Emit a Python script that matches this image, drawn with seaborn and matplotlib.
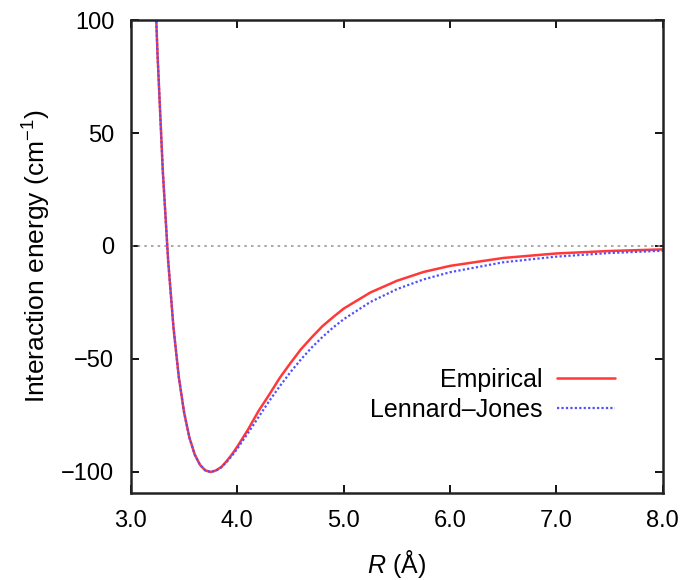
import numpy as np
import pandas as pd
import matplotlib
matplotlib.use("Agg")
import matplotlib.pyplot as plt
import seaborn as sns

# distancias (Angstrom) e energias (cm^-1)
r_vals = [3.20, 3.22, 3.25, 3.30, 3.35, 3.40, 3.45, 3.50, 3.55, 3.60, 3.65,
          3.70, 3.75, 3.80, 3.85, 3.90, 3.95, 4.00, 4.10, 4.20, 4.30, 4.40,
          4.50, 4.60, 4.70, 4.80, 4.90, 5.00, 5.25, 5.50, 5.75, 6.00, 6.50,
          7.00, 7.50, 8.00]

lj_vals = [152.8, 123.5, 85.0, 33.0, -6.4, -36.0, -57.9, -73.7, -84.8, -92.3,
           -96.9, -99.3, -100.0, -99.4, -97.9, -95.6, -92.8, -89.7, -82.8,
           -75.7, -68.6, -62.0, -55.8, -50.1, -44.9, -40.3, -36.1, -32.4,
           -24.8, -19.1, -14.8, -11.6, -7.2, -4.7, -3.1, -2.1]

emp_vals = [152.8, 123.5, 85.0, 33.0, -6.4, -36.0, -57.9, -73.7, -84.8, -92.3,
            -96.9, -99.3, -100.0, -99.3, -97.8, -95.2, -92.2, -88.8, -81.3,
            -73.0, -65.8, -58.3, -51.8, -45.6, -40.4, -35.5, -31.5, -27.7,
            -20.6, -15.4, -11.5, -8.8, -5.3, -3.3, -2.2, -1.5]

x_ticks = [3.0, 4.0, 5.0, 6.0, 7.0, 8.0]
y_ticks = [-100, -50, 0, 50, 100]

df = pd.DataFrame({"R": r_vals, "Empirical": emp_vals, "Lennard-Jones": lj_vals})

sns.set_style("ticks")
plt.rcParams["font.family"] = ["Liberation Sans", "DejaVu Sans"]
plt.rcParams["mathtext.fontset"] = "custom"
plt.rcParams["mathtext.rm"] = "Liberation Sans"
plt.rcParams["mathtext.it"] = "Liberation Sans:italic"
plt.rcParams["text.color"] = "black"
plt.rcParams["axes.labelcolor"] = "black"
plt.rcParams["xtick.color"] = "black"
plt.rcParams["ytick.color"] = "black"

fs = 17

fig = plt.figure(figsize=(6.89, 5.80), dpi=100)
ax = fig.add_axes([0.190, 0.150, 0.772, 0.8155])

ax.axhline(0, color="#999999", lw=1.2, ls=(0, (1.5, 2.5)), zorder=1)

sns.lineplot(data=df, x="R", y="Empirical", ax=ax, color="#ff3838", lw=1.8,
             label="Empirical", sort=False)
sns.lineplot(data=df, x="R", y="Lennard-Jones", ax=ax, color="#5050ff", lw=1.6,
             ls=(0, (1, 1)), label="Lennard\u2013Jones", sort=False)

ax.set_xlim(3.0, 8.0)
ax.set_ylim(-109.3, 100)
ax.set_xticks(x_ticks)
ax.set_xticklabels([f"{t:.1f}" for t in x_ticks])
ax.set_yticks(y_ticks)
ax.set_yticklabels([str(t).replace("-", "\u2212") for t in y_ticks])

for s in ax.spines.values():
    s.set_visible(True)
    s.set_linewidth(1.8)
    s.set_color("#222222")
ax.tick_params(direction="in", length=6, width=1.3, top=True, right=True,
               labelsize=fs, pad=12)

ax.set_xlabel("$R$ (\u00c5)", fontsize=fs + 1, labelpad=12)
ax.set_ylabel("Interaction energy (cm$^{\u22121}$)", fontsize=fs + 2, labelpad=6)

leg = ax.legend(loc="upper right", bbox_to_anchor=(0.928, 0.286), frameon=False,
                markerfirst=False, fontsize=fs + 1, handlelength=2.3,
                handletextpad=0.6, labelspacing=0.25, borderaxespad=0)
for t in leg.get_texts():
    t.set_ha("right")

fig.savefig("out.png", dpi=100)
